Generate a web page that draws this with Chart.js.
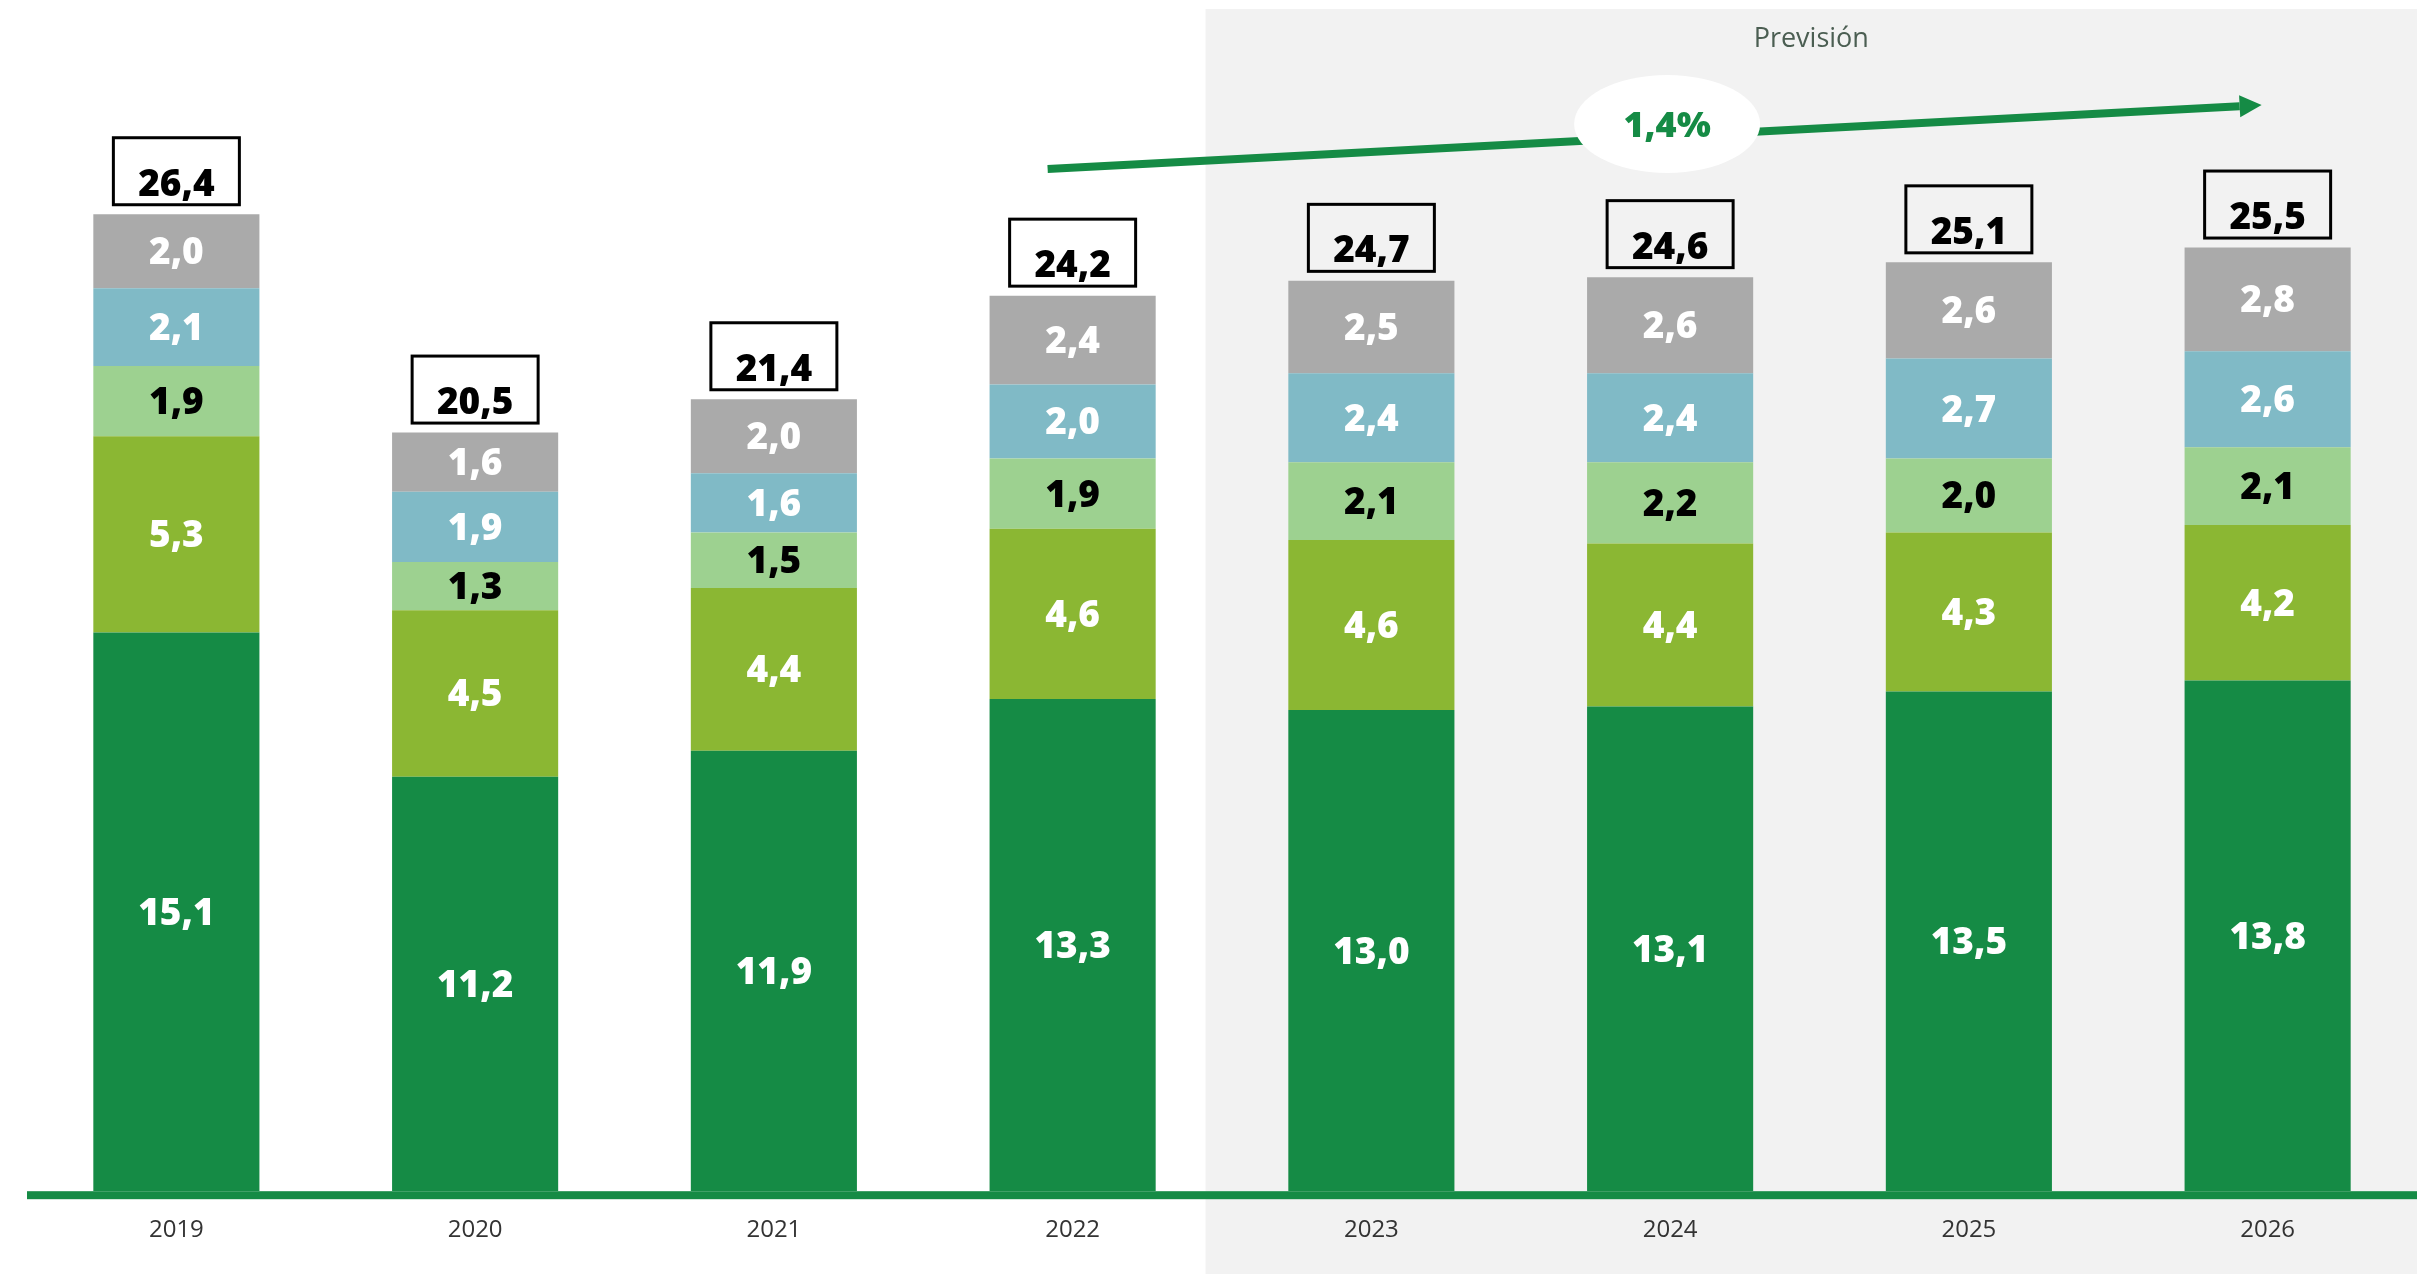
<!DOCTYPE html>
<html><head><meta charset="utf-8">
<script src="https://cdn.jsdelivr.net/npm/chart.js@4/dist/chart.umd.min.js"></script>
<style>html,body{margin:0;padding:0;background:#fff;overflow:hidden}canvas{display:block}</style>
</head><body>
<canvas id="c" width="2417" height="1274"></canvas>
<script>
// ---- data ----
const categories = ['2019','2020','2021','2022','2023','2024','2025','2026'];
const seriesDarkGreen  = [15.1, 11.2, 11.9, 13.3, 13.0, 13.1, 13.5, 13.8];
const seriesOlive      = [5.3, 4.5, 4.4, 4.6, 4.6, 4.4, 4.3, 4.2];
const seriesLightGreen = [1.9, 1.3, 1.5, 1.9, 2.1, 2.2, 2.0, 2.1];
const seriesBlue       = [2.1, 1.9, 1.6, 2.0, 2.4, 2.4, 2.7, 2.6];
const seriesGray       = [2.0, 1.6, 2.0, 2.4, 2.5, 2.6, 2.6, 2.8];
const totals           = [26.4, 20.5, 21.4, 24.2, 24.7, 24.6, 25.1, 25.5];
const forecastLabel = 'Previsión';
const growthLabel = '1,4%';
const forecastStartIndex = 4;

// ---- styles ----
const GREEN = '#158B45';
const colors = [GREEN, '#8BB733', '#9DD190', '#80BAC6', '#AAAAAA'];
const labelColors = ['#fff', '#fff', '#000', '#fff', '#fff'];
const FONT = '"Open Sans", "Noto Sans", sans-serif';
const fmt = v => v.toFixed(1).replace('.', ',');

const seriesList = [seriesDarkGreen, seriesOlive, seriesLightGreen, seriesBlue, seriesGray];

const decor = {
  id: 'decor',
  beforeDraw(chart) {
    const {ctx, chartArea: a, scales: {x}} = chart;
    ctx.save();
    ctx.fillStyle = '#fff';
    ctx.fillRect(0, 0, chart.width, chart.height);
    const pitch = x.getPixelForValue(1) - x.getPixelForValue(0);
    const left = x.getPixelForValue(forecastStartIndex) - pitch * 0.555;
    ctx.fillStyle = '#F2F2F2';
    ctx.fillRect(left, a.top + 2, chart.width - left, chart.height);
    ctx.fillStyle = '#4B5E52';
    ctx.font = '400 27px ' + FONT;
    ctx.textAlign = 'center';
    ctx.textBaseline = 'middle';
    ctx.fillText(forecastLabel, (left + chart.width) / 2, a.top + 32);
    ctx.restore();
  },
  afterDatasetsDraw(chart) {
    const {ctx, chartArea: a, scales: {x, y}} = chart;
    ctx.save();
    // axis line
    ctx.fillStyle = GREEN;
    ctx.fillRect(a.left, a.bottom, a.right - a.left, 8);

    // segment labels
    ctx.textAlign = 'center';
    ctx.textBaseline = 'alphabetic';
    ctx.font = '800 37px ' + FONT;
    chart.data.datasets.forEach((ds, d) => {
      const meta = chart.getDatasetMeta(d);
      meta.data.forEach((el, i) => {
        const cy = (el.y + el.base) / 2;
        ctx.fillStyle = labelColors[d];
        ctx.fillText(fmt(ds.data[i]), el.x, cy + 13);
      });
    });

    // total boxes
    const topMeta = chart.getDatasetMeta(chart.data.datasets.length - 1);
    topMeta.data.forEach((el, i) => {
      const bottom = el.y - 8;
      const top = bottom - 70;
      ctx.strokeStyle = '#000';
      ctx.lineWidth = 3;
      ctx.strokeRect(el.x - 63, top + 1.5, 126, 67);
      ctx.fillStyle = '#000';
      ctx.font = '800 37px ' + FONT;
      ctx.fillText(fmt(totals[i]), el.x, top + 59.5);
    });

    // growth arrow
    const x0 = x.getPixelForValue(3) - 25, y0 = y.getPixelForValue(27.62);
    const x1 = x.getPixelForValue(7) - 6,  y1 = y.getPixelForValue(29.35);
    const ang = Math.atan2(y1 - y0, x1 - x0);
    const headLen = 22, headHalf = 11;
    const hx = x1 - headLen * Math.cos(ang), hy = y1 - headLen * Math.sin(ang);
    ctx.strokeStyle = GREEN;
    ctx.lineWidth = 8;
    ctx.lineCap = 'butt';
    ctx.beginPath(); ctx.moveTo(x0, y0); ctx.lineTo(hx, hy); ctx.stroke();
    ctx.fillStyle = GREEN;
    ctx.beginPath();
    ctx.moveTo(x1, y1);
    ctx.lineTo(hx + headHalf * Math.sin(ang), hy - headHalf * Math.cos(ang));
    ctx.lineTo(hx - headHalf * Math.sin(ang), hy + headHalf * Math.cos(ang));
    ctx.closePath(); ctx.fill();

    // ellipse with growth label
    const ex = x.getPixelForValue(5) - 3, ey = y.getPixelForValue(28.84);
    ctx.fillStyle = '#fff';
    ctx.beginPath(); ctx.ellipse(ex, ey, 93, 49, 0, 0, Math.PI * 2); ctx.fill();
    ctx.fillStyle = GREEN;
    ctx.font = '800 36px ' + FONT;
    ctx.textBaseline = 'middle';
    ctx.fillText(growthLabel, ex, ey + 3);
    ctx.restore();
  }
};

new Chart(document.getElementById('c'), {
  type: 'bar',
  data: {
    labels: categories,
    datasets: seriesList.map((s, i) => ({
      data: s,
      backgroundColor: colors[i],
      borderWidth: 0,
      categoryPercentage: 1,
      barPercentage: 0.556
    }))
  },
  options: {
    responsive: false,
    animation: false,
    devicePixelRatio: 1,
    layout: {padding: {left: 27, right: 0, top: 7, bottom: 4}},
    plugins: {legend: {display: false}, tooltip: {enabled: false}},
    scales: {
      x: {
        stacked: true,
        grid: {display: false, drawTicks: false},
        border: {display: false},
        ticks: {color: '#333', font: {family: FONT, size: 24, weight: '400'}, padding: 25}
      },
      y: {
        stacked: true,
        display: false,
        min: 0,
        max: 32
      }
    }
  },
  plugins: [decor]
});
</script>
</body></html>
